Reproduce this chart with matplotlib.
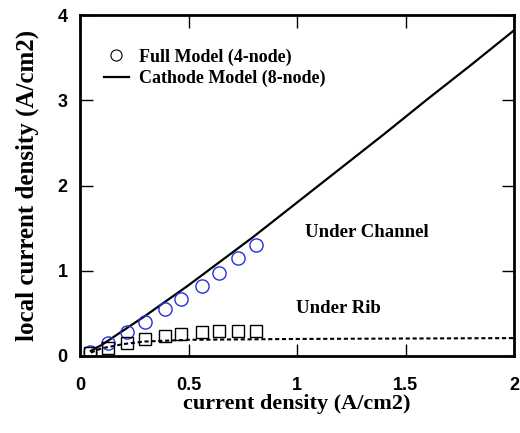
import numpy as np
import matplotlib.pyplot as plt
from matplotlib.lines import Line2D

# full model (4-node) - circles under channel, squares under rib
full_x = [0.046, 0.13, 0.215, 0.30, 0.39, 0.465, 0.56, 0.64, 0.73, 0.81]
full_channel = [0.05, 0.156, 0.278, 0.395, 0.548, 0.672, 0.825, 0.974, 1.15, 1.306]
full_rib = [0.04, 0.09, 0.15, 0.196, 0.235, 0.255, 0.285, 0.297, 0.297, 0.297]

# cathode model (8-node) - lines
cath_x = [0.05, 0.1, 0.2, 0.3, 0.4, 0.5, 0.6, 0.8, 1.0, 1.2, 1.4, 1.6, 1.8, 2.0]
cath_channel = [0.06, 0.13, 0.30, 0.47, 0.65, 0.83, 1.02, 1.40, 1.80, 2.20, 2.60, 3.01, 3.41, 3.82]
rib_x = [0.05, 0.1, 0.2, 0.3, 0.5, 0.75, 1.0, 1.5, 2.0]
cath_rib = [0.04, 0.09, 0.14, 0.17, 0.19, 0.195, 0.2, 0.205, 0.21]

xticks = [0, 0.5, 1, 1.5, 2]
xticklabels = ['0', '0.5', '1', '1.5', '2']
yticks = [0, 1, 2, 3, 4]

fig = plt.figure(figsize=(5.2, 4.33), dpi=100)
ax = fig.add_axes([80/520, 1 - 356/433, 434/520, 341/433])

serif = {'family': 'Liberation Serif', 'weight': 'bold'}

ax.plot(cath_x, cath_channel, color='black', linewidth=1.6)
ax.plot(rib_x, cath_rib, color='black', linewidth=1.5, linestyle=(0, (2, 1.3)))
ax.plot(full_x, full_channel, linestyle='none', marker='o', markersize=9.5,
        markerfacecolor='none', markeredgecolor='#2233dd', markeredgewidth=1.0)
ax.plot(full_x, full_rib, linestyle='none', marker='s', markersize=8.5,
        markerfacecolor='none', markeredgecolor='black', markeredgewidth=1.0)

ax.text(1.035, 1.45, 'Under Channel', fontdict=serif, fontsize=13.5, va='center')
ax.text(0.995, 0.56, 'Under Rib', fontdict=serif, fontsize=13.5, va='center')

handles = [Line2D([], [], linestyle='none', marker='o', markersize=8,
                  markerfacecolor='none', markeredgecolor='black', markeredgewidth=0.8),
           Line2D([], [], color='black', linewidth=1.6)]
ax.legend(handles, ['Full Model (4-node)', 'Cathode Model (8-node)'],
          loc='upper left', bbox_to_anchor=(0.017, 0.95), frameon=False,
          prop={'family': 'Liberation Serif', 'weight': 'bold', 'size': 13},
          handlelength=1.4, handletextpad=0.55, labelspacing=0.23)

ax.set_xlim(0, 2)
ax.set_ylim(0, 4)
ax.set_xticks(xticks)
ax.set_xticklabels(xticklabels)
ax.set_yticks(yticks)
ax.tick_params(direction='in', length=9, width=1, top=True, right=True)
ax.tick_params(axis='x', pad=15)
ax.tick_params(axis='y', pad=9)
for lab in ax.get_xticklabels() + ax.get_yticklabels():
    lab.set_fontfamily('Liberation Sans')
    lab.set_fontweight('bold')
    lab.set_fontsize(13)
for s in ax.spines.values():
    s.set_linewidth(2)

ax.set_xlabel('current density (A/cm2)', fontdict=serif, fontsize=16, labelpad=0)
ax.set_ylabel('local current density (A/cm2)', fontdict=serif, fontsize=18, labelpad=13)

plt.savefig('out.png', dpi=100)
